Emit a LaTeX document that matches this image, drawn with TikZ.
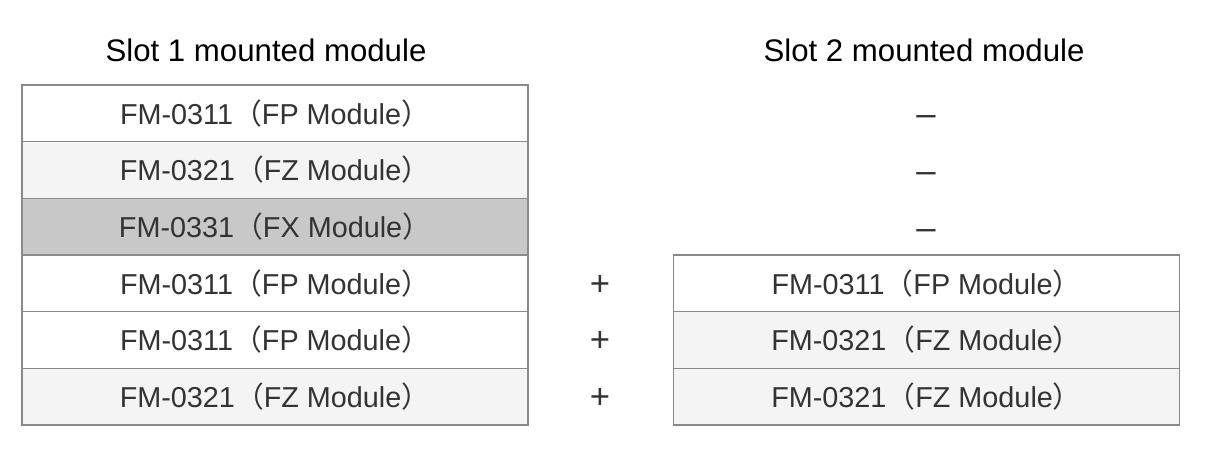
\documentclass[tikz,border=0pt]{standalone}
\usepackage{fontspec}
\setmainfont{Liberation Sans}
\newfontfamily\cjk{Noto Sans CJK JP}
\usepackage{tikz}
\definecolor{rowline}{HTML}{8A8A8A}
\definecolor{rowlight}{HTML}{F4F4F4}
\definecolor{rowdark}{HTML}{C8C8C8}
\definecolor{rowtext}{HTML}{333333}
\newcommand\modtxt[2]{#1{\cjk （}#2 Module{\cjk ）}}

\begin{document}
\begin{tikzpicture}[x=0.75pt,y=0.75pt,
    modbox/.style={draw=rowline,line width=0.9pt,minimum width=379.5pt,minimum height=42.5pt,
        inner sep=0pt,outer sep=0pt,font=\fontsize{21.6}{25}\selectfont,text=rowtext},
    slottitle/.style={font=\fontsize{23.4}{27}\selectfont,text=black},
    signtext/.style={font=\fontsize{26}{30}\selectfont,text=rowtext}]
        \useasboundingbox[fill=white] (0,0) rectangle (1221,-454);
        % titles
        \node[slottitle] (t1) at (266,-50) {Slot 1 mounted module};
        \node[slottitle] (t2) at (924,-50) {Slot 2 mounted module};
        % slot 1
        \node[modbox,fill=white] (a1) at (275,-113.3) {\modtxt{FM-0311}{FP}};
        \node[modbox,fill=rowlight] (a2) at (275,-170) {\modtxt{FM-0321}{FZ}};
        \node[modbox,fill=rowdark] (a3) at (275,-226.7) {\modtxt{FM-0331}{FX}};
        \node[modbox,fill=white] (a4) at (275,-283.3) {\modtxt{FM-0311}{FP}};
        \node[modbox,fill=white] (a5) at (275,-340) {\modtxt{FM-0311}{FP}};
        \node[modbox,fill=rowlight] (a6) at (275,-396.7) {\modtxt{FM-0321}{FZ}};
        % slot 2
        \node[signtext] (n1) at (926,-121) {–};
        \node[signtext] (n2) at (926,-177.7) {–};
        \node[signtext] (n3) at (926,-234.4) {–};
        \node[modbox,fill=white] (b4) at (926.5,-283.3) {\modtxt{FM-0311}{FP}};
        \node[modbox,fill=rowlight] (b5) at (926.5,-340) {\modtxt{FM-0321}{FZ}};
        \node[modbox,fill=rowlight] (b6) at (926.5,-396.7) {\modtxt{FM-0321}{FZ}};
        % plus signs
        \node[signtext] (p4) at (600,-285) {+};
        \node[signtext] (p5) at (600,-341.7) {+};
        \node[signtext] (p6) at (600,-398.4) {+};
\end{tikzpicture}
\end{document}
